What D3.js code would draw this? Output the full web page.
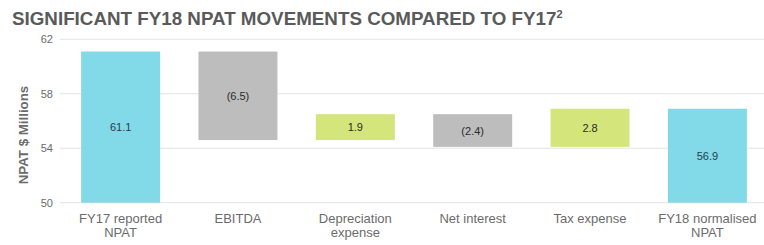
<!DOCTYPE html>
<html>
<head>
<meta charset="utf-8">
<script src="https://cdn.jsdelivr.net/npm/d3@7"></script>
<style>
  body { margin: 0; background: #fff; }
  text { font-family: "Liberation Sans", Arial, sans-serif; }
</style>
</head>
<body>
<svg width="764" height="245"></svg>
<script>
// categorie (con a capo) e valori in milioni
var categories = [["FY17 reported", "NPAT"], ["EBITDA"], ["Depreciation", "expense"], ["Net interest"], ["Tax expense"], ["FY18 normalised", "NPAT"]];
var values = [61.1, -6.5, 1.9, -2.4, 2.8, 56.9];
var labels = ["61.1", "(6.5)", "1.9", "(2.4)", "2.8", "56.9"];
var kinds = ["total", "down", "up", "down", "up", "total"];
var yTicks = [50, 54, 58, 62];

var colors = { total: "#82d9e8", down: "#bdbdbd", up: "#d4e57b" };

var svg = d3.select("svg");

// calcolo inizio e fine di ogni barra (waterfall)
var running = 0;
var bars = values.map(function (v, i) {
  var b;
  if (kinds[i] == "total") {
    b = { y0: 50, y1: v };
    running = v;
  } else {
    b = { y0: running, y1: running + v };
    running = running + v;
  }
  b.i = i;
  return b;
});

var x = d3.scaleBand()
  .domain(d3.range(categories.length))
  .range([62, 766])
  .paddingInner(0.327)
  .paddingOuter(0.163);

var y = d3.scaleLinear()
  .domain([50, 62])
  .range([202.7, 39.3]);

// titolo
var title = svg.append("text")
  .attr("x", 12).attr("y", 25)
  .attr("font-size", 18.8).attr("font-weight", "bold")
  .attr("fill", "#5a5a5a")
  .text("SIGNIFICANT FY18 NPAT MOVEMENTS COMPARED TO FY17");
title.append("tspan").attr("font-size", 11).attr("dy", -7).text("2");

// griglia
svg.append("g").selectAll("line")
  .data(yTicks)
  .enter().append("line")
  .attr("x1", 60).attr("x2", 764)
  .attr("y1", function (d) { return y(d); })
  .attr("y2", function (d) { return y(d); })
  .attr("stroke", "#e3e3e3").attr("stroke-width", 1);

// asse y
var yAxis = svg.append("g")
  .attr("transform", "translate(53,0)")
  .call(d3.axisLeft(y).tickValues(yTicks).tickSize(0).tickPadding(0));
yAxis.select(".domain").remove();
yAxis.selectAll("text")
  .attr("font-size", 11).attr("fill", "#6b6b6b")
  .style("font-family", "Liberation Sans, Arial, sans-serif");

svg.append("text")
  .attr("transform", "translate(28,135) rotate(-90)")
  .attr("text-anchor", "middle")
  .attr("font-size", 13.3).attr("font-weight", "bold")
  .attr("fill", "#6b6b6b")
  .text("NPAT $ Millions");

// barre
svg.append("g").selectAll("rect")
  .data(bars)
  .enter().append("rect")
  .attr("x", function (d) { return x(d.i); })
  .attr("width", x.bandwidth())
  .attr("y", function (d) { return y(Math.max(d.y0, d.y1)); })
  .attr("height", function (d) { return Math.abs(y(d.y0) - y(d.y1)); })
  .attr("fill", function (d) { return colors[kinds[d.i]]; });

// etichette valori
svg.append("g").selectAll("text")
  .data(bars)
  .enter().append("text")
  .attr("x", function (d) { return x(d.i) + x.bandwidth() / 2; })
  .attr("y", function (d) { return y((d.y0 + d.y1) / 2) + 4; })
  .attr("text-anchor", "middle")
  .attr("font-size", 11)
  .attr("fill", function (d) { return kinds[d.i] == "total" ? "#1f3f4c" : "#2b2b2b"; })
  .text(function (d) { return labels[d.i]; });

// etichette categorie
var cat = svg.append("g").selectAll("text")
  .data(categories)
  .enter().append("text")
  .attr("x", function (d, i) { return x(i) + x.bandwidth() / 2; })
  .attr("y", 223)
  .attr("text-anchor", "middle")
  .attr("font-size", 13)
  .attr("fill", "#6b6b6b");
cat.selectAll("tspan")
  .data(function (d) { return d; })
  .enter().append("tspan")
  .attr("x", function () { return d3.select(this.parentNode).attr("x"); })
  .attr("dy", function (d, i) { return i == 0 ? 0 : 14; })
  .text(function (d) { return d; });
</script>
</body>
</html>
